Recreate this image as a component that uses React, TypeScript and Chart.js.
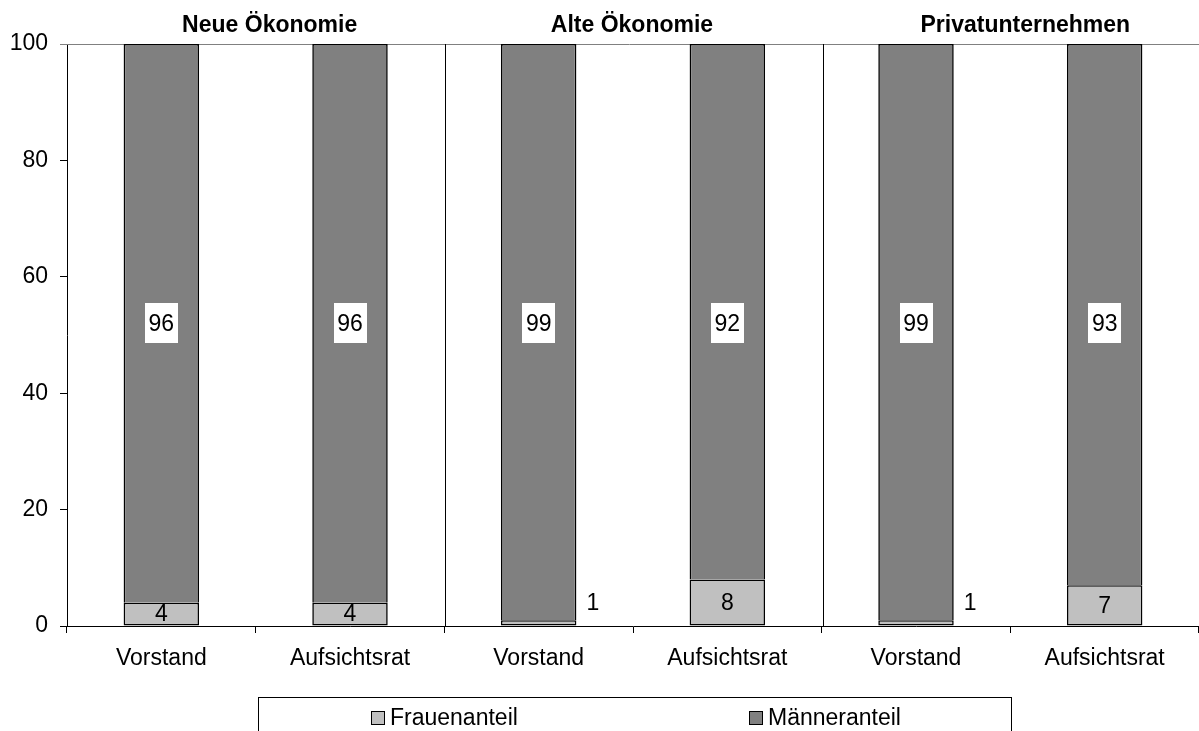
import React, { useEffect, useRef } from "react";
import { Chart, registerables } from "chart.js";

Chart.register(...registerables);

// ---- data ----
const categories = ["Vorstand", "Aufsichtsrat", "Vorstand", "Aufsichtsrat", "Vorstand", "Aufsichtsrat"];
const groupTitles = ["Neue Ökonomie", "Alte Ökonomie", "Privatunternehmen"];
const frauenanteil = [4, 4, 1, 8, 1, 7];
const maenneranteil = [96, 96, 99, 92, 99, 93];
const seriesNames = ["Frauenanteil", "Männeranteil"];
const yMin = 0;
const yMax = 100;
const yStep = 20;

// ---- style ----
const FONT = '"Liberation Sans", Arial, sans-serif';
const FRAUEN_COLOR = "#C0C0C0";
const MAENNER_COLOR = "#808080";
const MALE_LABEL_ANCHOR = 52; // value height at which male labels sit
const TITLE_OFFSETS = [14, -1, 15];

const decorPlugin = {
  id: "decor",
  beforeDatasetsDraw(chart: any) {
    const { ctx, chartArea, scales } = chart;
    const x = scales.x;
    const y = scales.y;
    ctx.save();
    // top gray line at 100
    const yTop = Math.round(y.getPixelForValue(yMax)) + 0.5;
    ctx.strokeStyle = "#808080";
    ctx.lineWidth = 1;
    ctx.beginPath();
    ctx.moveTo(chartArea.left - 7, yTop);
    ctx.lineTo(chart.width, yTop);
    ctx.stroke();
    // group separators
    ctx.strokeStyle = "#000000";
    for (let g = 1; g < groupTitles.length; g++) {
      const px = (x.getPixelForValue(g * 2 - 1) + x.getPixelForValue(g * 2)) / 2;
      const sx = Math.round(px) + 1.5;
      ctx.beginPath();
      ctx.moveTo(sx, chartArea.top);
      ctx.lineTo(sx, chartArea.bottom);
      ctx.stroke();
    }
    ctx.restore();
  },
  afterDatasetsDraw(chart: any) {
    const { ctx, scales } = chart;
    const y = scales.y;
    ctx.save();
    ctx.font = `23px ${FONT}`;
    ctx.fillStyle = "#000";
    // female labels
    const fMeta = chart.getDatasetMeta(0);
    fMeta.data.forEach((bar: any, i: number) => {
      const v = frauenanteil[i];
      const txt = String(v);
      if (v >= 3) {
        ctx.textAlign = "center";
        ctx.textBaseline = "middle";
        ctx.fillText(txt, bar.x, (bar.y + bar.base) / 2 + 1);
      } else {
        ctx.textAlign = "left";
        ctx.textBaseline = "middle";
        ctx.fillText(txt, bar.x + bar.width / 2 + 10, bar.base - 22);
      }
    });
    // male labels in white boxes
    const mMeta = chart.getDatasetMeta(1);
    mMeta.data.forEach((bar: any, i: number) => {
      const txt = String(maenneranteil[i]);
      const cy = y.getPixelForValue(MALE_LABEL_ANCHOR);
      const w = ctx.measureText(txt).width + 7;
      const h = 40;
      ctx.fillStyle = "#FFFFFF";
      ctx.fillRect(Math.round(bar.x - w / 2), Math.round(cy - h / 2), Math.round(w), h);
      ctx.fillStyle = "#000";
      ctx.textAlign = "center";
      ctx.textBaseline = "middle";
      ctx.fillText(txt, bar.x, cy + 1);
    });
    ctx.restore();
  },
  afterDraw(chart: any) {
    const { ctx, scales } = chart;
    const x = scales.x;
    ctx.save();
    // group titles
    ctx.font = `bold 23px ${FONT}`;
    ctx.fillStyle = "#000";
    ctx.textAlign = "center";
    ctx.textBaseline = "alphabetic";
    groupTitles.forEach((t, g) => {
      const cx = (x.getPixelForValue(g * 2) + x.getPixelForValue(g * 2 + 1)) / 2 + TITLE_OFFSETS[g];
      ctx.fillText(t, cx, 32);
    });
    // legend
    ctx.strokeStyle = "#000";
    ctx.lineWidth = 1;
    ctx.strokeRect(258.5, 697.5, 753, 80);
    const items = [
      { name: seriesNames[0], color: FRAUEN_COLOR, sx: 371 },
      { name: seriesNames[1], color: MAENNER_COLOR, sx: 749 },
    ];
    ctx.font = `23px ${FONT}`;
    ctx.textAlign = "left";
    items.forEach((it) => {
      ctx.fillStyle = it.color;
      ctx.fillRect(it.sx, 711, 14, 14);
      ctx.strokeStyle = "#000";
      ctx.strokeRect(it.sx + 0.5, 711.5, 13, 13);
      ctx.fillStyle = "#000";
      ctx.fillText(it.name, it.sx + 19, 725);
    });
    ctx.restore();
  },
};

export default function App() {
  const ref = useRef<HTMLCanvasElement | null>(null);
  useEffect(() => {
    document.body.style.margin = "0";
    const canvas = ref.current;
    if (!canvas) return;
    const chart = new Chart(canvas, {
      type: "bar",
      data: {
        labels: categories,
        datasets: [
          {
            label: seriesNames[0],
            data: frauenanteil,
            backgroundColor: FRAUEN_COLOR,
            borderColor: "#000",
            borderWidth: 1.6,
            borderSkipped: false,
            barPercentage: 0.4,
            categoryPercentage: 1,
          },
          {
            label: seriesNames[1],
            data: maenneranteil,
            backgroundColor: MAENNER_COLOR,
            borderColor: "#000",
            borderWidth: 1.6,
            borderSkipped: "bottom",
            barPercentage: 0.4,
            categoryPercentage: 1,
          },
        ],
      },
      options: {
        responsive: false,
        devicePixelRatio: 1,
        animation: false,
        layout: { padding: { top: 44, left: 0, right: 0, bottom: 0 } },
        plugins: {
          legend: { display: false },
          tooltip: { enabled: false },
          title: { display: false },
        },
        scales: {
          x: {
            stacked: true,
            offset: true,
            grid: {
              display: true,
              drawOnChartArea: false,
              drawTicks: true,
              tickLength: 7,
              color: "#000",
              offset: true,
            },
            border: { display: true, color: "#000" },
            ticks: {
              color: "#000",
              font: { family: FONT, size: 23 },
              padding: 12,
              maxRotation: 0,
              autoSkip: false,
            },
            afterFit: (scale: any) => {
              scale.height = 105;
            },
          },
          y: {
            stacked: true,
            min: yMin,
            max: yMax,
            ticks: {
              stepSize: yStep,
              color: "#000",
              font: { family: FONT, size: 23 },
              padding: 12,
            },
            grid: {
              display: true,
              drawOnChartArea: false,
              drawTicks: true,
              tickLength: 7,
              color: "#000",
            },
            border: { display: true, color: "#000" },
            afterFit: (scale: any) => {
              scale.width = 67;
            },
          },
        },
      },
      plugins: [decorPlugin],
    });
    return () => chart.destroy();
  }, []);
  return (
    <canvas
      ref={ref}
      width={1199}
      height={731}
      style={{ display: "block", position: "absolute", left: 0, top: 0 }}
    />
  );
}
